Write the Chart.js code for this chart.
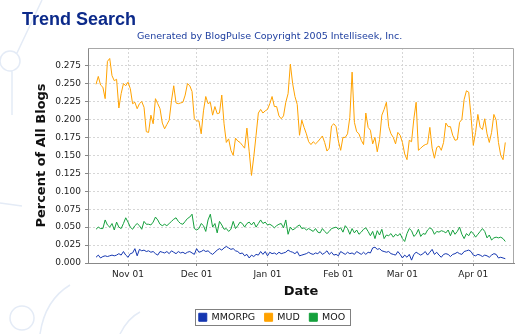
<!DOCTYPE html>
<html>
<head>
<meta charset="utf-8">
<title>Trend Search</title>
<script src="https://cdn.jsdelivr.net/npm/chart.js@4.4.1/dist/chart.umd.min.js"></script>
<style>
  html, body { margin: 0; padding: 0; background: #fff; }
  #wrap { position: relative; width: 530px; height: 334px; overflow: hidden; }
  #chart { position: absolute; left: 0; top: 0; }
  .head { position: absolute; white-space: nowrap; }
  #title { left: 22px; top: 9px; font: bold 18px "Liberation Sans", Arial, sans-serif; color: #0c2a8a; }
  #sub { left: 137px; top: 30px; font: 9.5px "DejaVu Sans", sans-serif; color: #2040a0; }
</style>
</head>
<body>
<div id="wrap">
  <canvas id="chart" width="530" height="334"></canvas>
  <div class="head" id="title">Trend Search</div>
  <div class="head" id="sub">Generated by BlogPulse Copyright 2005 Intelliseek, Inc.</div>
</div>
<script>
// daily series, first point is 2004-10-18
const startDate = '2004-10-18';
const monthTicks = ['2004-11-01', '2004-12-01', '2005-01-01', '2005-02-01', '2005-03-01', '2005-04-01'];
const monthLabels = ['Nov 01', 'Dec 01', 'Jan 01', 'Feb 01', 'Mar 01', 'Apr 01'];
const yTicks = [0, 0.025, 0.05, 0.075, 0.1, 0.125, 0.15, 0.175, 0.2, 0.225, 0.25, 0.275];
const seriesNames = ['MMORPG', 'MUD', 'MOO'];

const mmorpg = [
  .008,.011,.007,.009,.010,.009,.010,.011,.010,.011,
  .013,.011,.016,.011,.008,.013,.014,.020,.010,.019,
  .017,.018,.016,.017,.015,.016,.013,.011,.016,.015,
  .014,.016,.013,.017,.015,.013,.016,.014,.015,.013,
  .015,.016,.014,.012,.020,.015,.016,.018,.016,.017,
  .014,.012,.015,.018,.020,.018,.021,.023,.021,.019,
  .020,.017,.016,.013,.014,.010,.012,.007,.011,.009,
  .012,.011,.016,.012,.016,.010,.015,.013,.014,.012,
  .015,.013,.014,.015,.018,.016,.015,.013,.016,.010,
  .011,.012,.013,.015,.013,.012,.014,.013,.016,.012,
  .014,.017,.012,.015,.011,.012,.010,.016,.014,.012,
  .015,.013,.014,.012,.016,.014,.012,.015,.012,.015,
  .014,.021,.022,.019,.020,.017,.016,.015,.016,.013,
  .012,.011,.016,.012,.007,.011,.008,.012,.004,.012,
  .015,.013,.011,.013,.016,.011,.015,.019,.012,.015,
  .011,.008,.012,.013,.012,.009,.012,.013,.015,.013,
  .012,.016,.017,.018,.016,.011,.010,.012,.011,.009,
  .011,.010,.008,.011,.013,.012,.007,.008,.007,.006
];

const mud = [
  .249,.260,.248,.245,.229,.281,.285,.261,.254,.256,
  .216,.236,.250,.247,.252,.243,.222,.224,.215,.222,
  .225,.217,.183,.182,.206,.194,.229,.222,.215,.195,
  .187,.193,.199,.226,.247,.223,.222,.223,.224,.234,
  .250,.247,.239,.201,.198,.198,.180,.212,.232,.222,
  .224,.206,.218,.208,.209,.234,.194,.168,.173,.157,
  .150,.174,.170,.168,.164,.160,.188,.155,.122,.148,
  .178,.209,.214,.209,.212,.214,.222,.232,.218,.218,
  .205,.201,.205,.224,.236,.277,.250,.232,.221,.178,
  .199,.189,.180,.169,.165,.169,.166,.169,.173,.177,
  .168,.156,.160,.191,.194,.190,.170,.157,.175,.175,
  .180,.203,.266,.196,.183,.180,.171,.165,.209,.189,
  .185,.166,.175,.155,.172,.206,.214,.224,.190,.180,
  .175,.166,.182,.178,.168,.152,.144,.171,.169,.201,
  .224,.157,.160,.163,.165,.166,.189,.160,.146,.161,
  .163,.157,.168,.195,.190,.190,.178,.171,.172,.196,
  .200,.228,.240,.238,.205,.164,.182,.207,.189,.186,
  .201,.180,.168,.182,.207,.199,.168,.150,.144,.168
];

const moo = [
  .047,.050,.048,.048,.060,.053,.050,.055,.046,.057,
  .050,.048,.055,.063,.057,.050,.047,.052,.055,.052,
  .047,.058,.054,.054,.053,.057,.064,.060,.054,.052,
  .054,.052,.055,.058,.061,.063,.058,.055,.054,.058,
  .062,.064,.068,.048,.046,.048,.055,.052,.044,.060,
  .068,.050,.055,.042,.058,.053,.047,.048,.044,.047,
  .058,.048,.052,.057,.055,.050,.055,.057,.053,.057,
  .050,.055,.060,.055,.057,.053,.054,.052,.049,.052,
  .054,.055,.049,.060,.040,.050,.046,.048,.051,.053,
  .048,.049,.046,.048,.046,.044,.048,.043,.042,.048,
  .044,.041,.044,.048,.049,.050,.047,.049,.043,.052,
  .048,.040,.048,.042,.046,.040,.043,.047,.049,.044,
  .038,.044,.034,.045,.039,.047,.034,.039,.038,.041,
  .036,.040,.038,.041,.034,.030,.041,.048,.045,.037,
  .040,.047,.037,.041,.040,.046,.049,.047,.040,.044,
  .043,.045,.044,.042,.046,.038,.046,.040,.044,.050,
  .040,.034,.041,.038,.044,.041,.036,.040,.044,.048,
  .044,.035,.039,.032,.035,.036,.035,.036,.034,.030
];

const colors = ['#1436b0', '#ffa200', '#14a03c'];

function dayOffset(d) {
  return (Date.parse(d) - Date.parse(startDate)) / 86400000;
}
const tickDays = monthTicks.map(dayOffset);

function toPoints(values) {
  return values.map((v, i) => ({ x: i, y: v }));
}

const axisFont = { family: 'DejaVu Sans', size: 9 };
const titleFont = { family: 'DejaVu Sans', size: 13, weight: 'bold' };

// faint background shapes, the plot frame and the legend box
const decor = {
  id: 'decor',
  beforeDraw(chart) {
    const ctx = chart.ctx;
    ctx.save();
    ctx.strokeStyle = '#e4ebf6';
    ctx.lineWidth = 1.5;
    ctx.beginPath();
    ctx.arc(10, 61, 10, 0, Math.PI * 2);
    ctx.moveTo(12, 71); ctx.lineTo(12, 115);
    ctx.moveTo(17, 53); ctx.lineTo(42, 0);
    ctx.moveTo(0, 203); ctx.lineTo(22, 206);
    ctx.moveTo(40, 334); ctx.quadraticCurveTo(45, 300, 70, 285);
    ctx.moveTo(120, 334); ctx.quadraticCurveTo(128, 318, 140, 312);
    ctx.stroke();
    ctx.beginPath();
    ctx.arc(22, 318, 12, 0, Math.PI * 2);
    ctx.stroke();
    ctx.restore();
  },
  afterDraw(chart) {
    const { ctx, chartArea: a, legend } = chart;
    ctx.save();
    ctx.lineWidth = 1;
    ctx.strokeStyle = '#a8a8a8';
    ctx.beginPath();
    ctx.moveTo(a.left, Math.round(a.top) + 0.5);
    ctx.lineTo(Math.round(a.right) - 0.5, Math.round(a.top) + 0.5);
    ctx.lineTo(Math.round(a.right) - 0.5, a.bottom);
    ctx.stroke();
    const hb = legend.legendHitBoxes;
    const first = hb[0], last = hb[hb.length - 1];
    const cy = first.top + first.height / 2;
    const l = Math.round(first.left - 4) + 0.5;
    const r = Math.round(last.left + last.width + 5) + 0.5;
    ctx.strokeStyle = '#808080';
    ctx.strokeRect(l, Math.round(cy - 8) + 0.5, r - l, 16);
    ctx.restore();
  }
};

new Chart(document.getElementById('chart'), {
  type: 'line',
  data: {
    datasets: [
      { label: seriesNames[0], data: toPoints(mmorpg), borderColor: colors[0], backgroundColor: colors[0] },
      { label: seriesNames[1], data: toPoints(mud), borderColor: colors[1], backgroundColor: colors[1] },
      { label: seriesNames[2], data: toPoints(moo), borderColor: colors[2], backgroundColor: colors[2] }
    ]
  },
  options: {
    responsive: false,
    animation: false,
    devicePixelRatio: 1,
    elements: {
      line: { borderWidth: 1, tension: 0 },
      point: { radius: 0 }
    },
    layout: { padding: { left: 30, right: 16, top: 48, bottom: 2 } },
    plugins: {
      tooltip: { enabled: false },
      legend: {
        position: 'bottom',
        labels: {
          boxWidth: 8,
          boxHeight: 8,
          padding: 9.5,
          color: '#111',
          font: { family: 'DejaVu Sans', size: 9.5 }
        }
      }
    },
    scales: {
      x: {
        type: 'linear',
        min: -3.5,
        max: 182.8,
        afterBuildTicks: s => { s.ticks = tickDays.map(v => ({ value: v })); },
        afterFit: s => { s.height = 40; },
        ticks: {
          callback: (v, i) => monthLabels[i],
          font: axisFont,
          color: '#222',
          padding: 3,
          maxRotation: 0,
          autoSkip: false
        },
        grid: { color: '#d6d6d6', tickLength: 3, tickColor: '#888' },
        border: { color: '#888', dash: [2, 2] },
        title: { display: true, text: 'Date', font: titleFont, color: '#111', padding: { top: 0, bottom: 4 } }
      },
      y: {
        min: 0,
        max: 0.2996,
        afterBuildTicks: s => { s.ticks = yTicks.map(v => ({ value: v })); },
        afterFit: s => { s.width = 58; },
        ticks: {
          callback: v => v.toFixed(3),
          font: axisFont,
          color: '#222',
          padding: 4
        },
        grid: { color: '#d6d6d6', tickLength: 3, tickColor: '#888' },
        border: { color: '#888', dash: [2, 2] },
        title: { display: true, text: 'Percent of All Blogs', font: titleFont, color: '#111', padding: { top: 4, bottom: 0 } }
      }
    }
  },
  plugins: [decor]
});
</script>
</body>
</html>
